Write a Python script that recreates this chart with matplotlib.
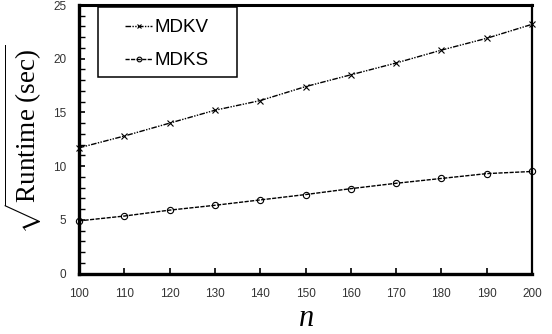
import matplotlib
matplotlib.use("Agg")
import matplotlib.pyplot as plt
from matplotlib.ticker import MultipleLocator
from matplotlib.patches import Rectangle

plt.rcParams['font.family'] = ['Liberation Sans', 'DejaVu Sans']
plt.rcParams['mathtext.fontset'] = 'custom'
plt.rcParams['mathtext.rm'] = 'Liberation Serif'
plt.rcParams['mathtext.it'] = 'Liberation Serif:italic'

n_values = [100, 110, 120, 130, 140, 150, 160, 170, 180, 190, 200]
mdkv = [11.7, 12.8, 14.0, 15.2, 16.1, 17.4, 18.5, 19.6, 20.8, 21.9, 23.2]
mdks = [4.9, 5.35, 5.9, 6.35, 6.85, 7.35, 7.9, 8.4, 8.85, 9.3, 9.5]
series_labels = ["MDKV", "MDKS"]
x_ticks = [100, 110, 120, 130, 140, 150, 160, 170, 180, 190, 200]
y_ticks = [0, 5, 10, 15, 20, 25]

W, H = 552, 334
L, R, T, B = 79, 532, 5, 273.5
fig = plt.figure(figsize=(W/100, H/100), dpi=100)
ax = fig.add_axes([L/W, 1 - B/H, (R-L)/W, (B-T)/H])

def ax_x(px):
    return (px - L) / (R - L)

def ax_y(py):
    return (B - py) / (B - T)

ax.plot(n_values, mdkv, color='black', lw=1.0, linestyle=(0, (4, 1, 1, 1, 1, 1)),
        marker='x', markersize=4.5, markeredgewidth=0.8, label=series_labels[0], clip_on=False)
ax.plot(n_values, mdks, color='black', lw=1.0, linestyle=(0, (3, 1)),
        marker='o', markersize=4.5, markerfacecolor='none', markeredgewidth=0.8,
        label=series_labels[1], clip_on=False)

ax.set_xlim(100, 200)
ax.set_ylim(0, 25)
ax.set_xticks(x_ticks)
ax.set_yticks(y_ticks)
ax.yaxis.set_minor_locator(MultipleLocator(1))
ax.tick_params(axis='both', which='both', direction='in', colors='black', labelcolor='#333333', labelsize=8.5)
ax.tick_params(axis='x', which='major', length=4, width=1.2, pad=10.5)
ax.tick_params(axis='y', which='major', length=4, width=1.2, pad=9)
ax.tick_params(axis='y', which='minor', length=4, width=1.0)
ax.tick_params(top=False, right=False)

for s in ['left', 'bottom']:
    ax.spines[s].set_linewidth(2.4)
ax.spines['top'].set_linewidth(2.2)
ax.spines['right'].set_linewidth(1.6)

ax.set_ylabel(r'$\sqrt{\mathrm{Runtime\ (sec)}}$', fontsize=19.5, labelpad=7)
ax.set_xlabel(r'$n$', fontsize=22, labelpad=2)

# legend frame
frame = Rectangle((ax_x(98), ax_y(77)), ax_x(237) - ax_x(98), ax_y(7) - ax_y(77),
                  transform=ax.transAxes, facecolor='white', edgecolor='black',
                  linewidth=1.1, zorder=4, clip_on=False)
ax.add_patch(frame)

leg = ax.legend(loc='upper left', bbox_to_anchor=(ax_x(125), ax_y(19)), fontsize=13.5,
                frameon=False, handlelength=1.45, handletextpad=0.15, borderpad=0,
                labelspacing=0.85, borderaxespad=0, markerscale=0.75)
leg.set_zorder(5)

fig.savefig('out.png', dpi=100)
